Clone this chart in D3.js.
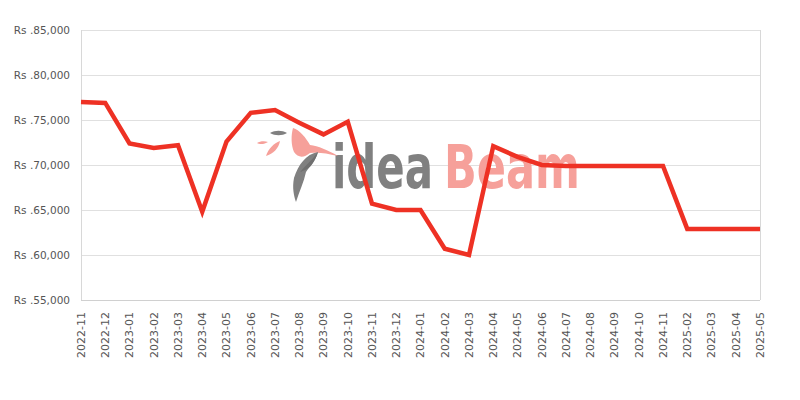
<!DOCTYPE html>
<html><head><meta charset="utf-8">
<script src="https://cdn.jsdelivr.net/npm/d3@7"></script>
<style>body{margin:0;background:#fff}svg{display:block}</style>
</head><body>
<svg id="c" width="800" height="400"></svg>
<script>
const categories = ["2022-11","2022-12","2023-01","2023-02","2023-03","2023-04","2023-05","2023-06","2023-07","2023-08","2023-09","2023-10","2023-11","2023-12","2024-01","2024-02","2024-03","2024-04","2024-05","2024-06","2024-07","2024-08","2024-09","2024-10","2024-11","2025-02","2025-03","2025-04","2025-05"];
const prices = [77000,76900,72400,71900,72200,64800,72600,75800,76100,74700,73400,74800,65700,65000,65000,60700,60000,72100,70900,70000,69900,69900,69900,69900,69900,62900,62900,62900,62900];
const yTicks = [55000,60000,65000,70000,75000,80000,85000];

const svg = d3.select("#c");
const m = {l:81, r:760, t:30, b:300};
const x = d3.scalePoint().domain(categories).range([m.l, m.r]);
const y = d3.scaleLinear().domain([55000,85000]).range([m.b, m.t]);

// grid
svg.append("g").selectAll("line").data(yTicks).join("line")
  .attr("x1", m.l).attr("x2", m.r).attr("y1", d=>y(d)).attr("y2", d=>y(d))
  .attr("stroke", "#e0e0e0").attr("stroke-width",1).attr("shape-rendering","crispEdges");
svg.append("line").attr("x1",m.l).attr("x2",m.l).attr("y1",m.t).attr("y2",m.b).attr("stroke","#d8d8d8").attr("shape-rendering","crispEdges");
svg.append("line").attr("x1",m.r).attr("x2",m.r).attr("y1",m.t).attr("y2",m.b).attr("stroke","#d8d8d8").attr("shape-rendering","crispEdges");
svg.append("line").attr("x1",m.l).attr("x2",m.r).attr("y1",m.b).attr("y2",m.b).attr("stroke","#d0d0d0").attr("shape-rendering","crispEdges");

// watermark
const wm = svg.append("g");
function fitText(txt, x0, w, fill){
  const t = wm.append("text").attr("x",0).attr("y",0)
    .attr("font-family","DejaVu Sans Condensed, DejaVu Sans").attr("font-size",60).attr("font-weight","bold")
    .attr("fill",fill).text(txt);
  const nat = t.node().getComputedTextLength();
  t.attr("transform",`translate(${x0},188) scale(${w/nat},1)`);
}
fitText("idea", 332, 101, "#808080");
fitText("Beam", 444, 136, "#f6a09a");
// bird (pink)
wm.append("path").attr("d","M293,128 C300,130 306,138 310,145 C318,146 328,150 338,156 C326,153 318,152 310,153 C304,158 298,158 294,152 C291,145 291,135 293,128 Z").attr("fill","#f6a09a");
// feather (gray)
wm.append("path").attr("d","M318,152 C306,154 298,165 294,178 C292,188 294,196 296,202 C299,192 304,182 306,172 C310,166 316,160 318,152 Z").attr("fill","#808080");
wm.append("path").attr("d","M318,152 C312,160 305,166 300,172 C308,170 314,165 318,152 Z").attr("fill","#6f6f6f");
// small leaves
wm.append("path").attr("d","M270,133 C275,130 282,130 287,133 C282,136 275,136 270,133 Z").attr("fill","#808080");
wm.append("path").attr("d","M257,143 C260,141 265,141 268,142 C265,144 260,145 257,143 Z").attr("fill","#f6a09a");
wm.append("path").attr("d","M266,156 C268,149 274,143 280,141 C279,148 273,154 266,156 Z").attr("fill","#f6a09a");

// line
svg.append("path").datum(prices)
  .attr("d", d3.line().x((d,i)=>x(categories[i])).y(d=>y(d)))
  .attr("fill","none").attr("stroke","#ee3124").attr("stroke-width",4.5).attr("stroke-linejoin","miter");

// y axis labels
svg.append("g").selectAll("text").data(yTicks).join("text")
  .attr("x", 70).attr("y", d=>y(d)).attr("dy","0.35em").attr("text-anchor","end")
  .attr("font-family","DejaVu Sans").attr("font-size",10.5).attr("fill","#555")
  .text(d=>"Rs ." + d3.format(",")(d));

// x labels
svg.append("g").selectAll("text").data(categories).join("text")
  .attr("transform", d=>`translate(${x(d)},${m.b+12}) rotate(-90)`)
  .attr("dy","0.35em").attr("text-anchor","end")
  .attr("font-family","DejaVu Sans").attr("font-size",11).attr("fill","#555")
  .text(d=>d);
</script>
</body></html>
